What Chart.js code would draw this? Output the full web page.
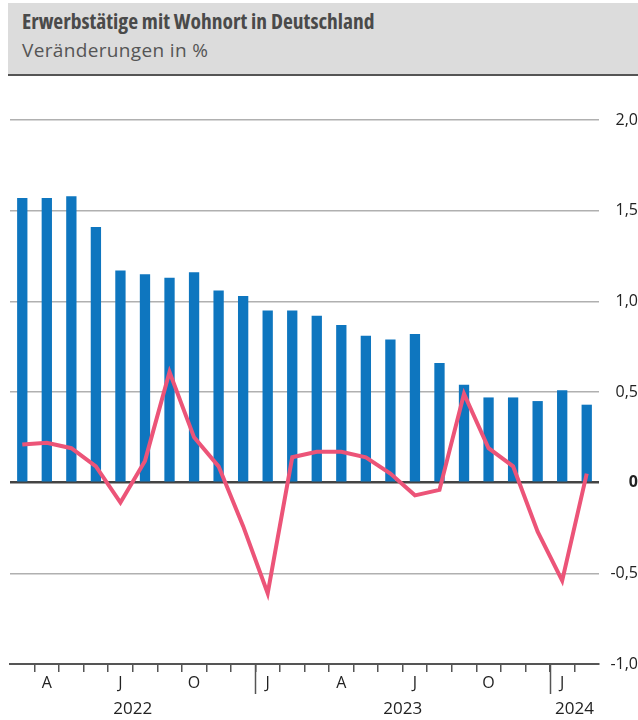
<!DOCTYPE html>
<html lang="de">
<head>
<meta charset="utf-8">
<title>Erwerbstätige mit Wohnort in Deutschland</title>
<script src="https://cdn.jsdelivr.net/npm/chart.js@4.4.1/dist/chart.umd.min.js"></script>
<style>
  body { margin: 0; background: #fff; }
  #page { position: relative; width: 638px; height: 720px; overflow: hidden; }
  #header {
    position: absolute; left: 8px; top: 3px; width: 630px; height: 71px;
    background: #dcdcdc; border-bottom: 2px solid #555;
  }
  #title {
    position: absolute; left: 14px; top: 7px; margin: 0;
    font: bold 21.5px "Open Sans", sans-serif; font-stretch: 75%;
    line-height: 1; color: #4a4a4a; white-space: nowrap;
  }
  #subtitle {
    position: absolute; left: 14px; top: 38px;
    font: 19px "Open Sans", sans-serif; letter-spacing: 0.35px;
    line-height: 1; color: #555; white-space: nowrap;
  }
  #chart { position: absolute; left: 0; top: 0; }
</style>
</head>
<body>
<div id="page">
  <canvas id="chart" width="638" height="720"></canvas>
  <div id="header">
    <h1 id="title">Erwerbstätige mit Wohnort in Deutschland</h1>
    <div id="subtitle">Veränderungen in %</div>
  </div>
</div>
<script>
// Months: March 2022 to February 2024
const categories = [
  "2022-03", "2022-04", "2022-05", "2022-06", "2022-07", "2022-08",
  "2022-09", "2022-10", "2022-11", "2022-12",
  "2023-01", "2023-02", "2023-03", "2023-04", "2023-05", "2023-06",
  "2023-07", "2023-08", "2023-09", "2023-10", "2023-11", "2023-12",
  "2024-01", "2024-02",
];

// Month letters shown under the axis (only some months are labelled)
const monthLetters = { "01": "J", "04": "A", "07": "J", "10": "O" };

// Bars: change against the previous year (%)
const barValues = [
  1.57, 1.57, 1.58, 1.41, 1.17, 1.15, 1.13, 1.16, 1.06, 1.03,
  0.95, 0.95, 0.92, 0.87, 0.81, 0.79, 0.82, 0.66, 0.54, 0.47,
  0.47, 0.45, 0.51, 0.43,
];

// Line: change against the previous month (%)
const lineValues = [
  0.21, 0.22, 0.19, 0.09, -0.11, 0.12, 0.61, 0.25, 0.09, -0.24,
  -0.61, 0.14, 0.17, 0.17, 0.14, 0.05, -0.07, -0.04, 0.49, 0.19,
  0.09, -0.27, -0.54, 0.05,
];

// Y axis ticks
const yTicks = [-1, -0.5, 0, 0.5, 1, 1.5, 2];

const years = [...new Set(categories.map((c) => c.slice(0, 4)))];

const tickFont = { family: "'Open Sans', sans-serif", size: 16 };

// year separators and year labels below the month letters
const yearAxisPlugin = {
  id: "yearAxis",
  afterDraw(chart) {
    const x = chart.scales.x;
    const ctx = chart.ctx;
    const bottom = chart.chartArea.bottom;
    ctx.save();
    ctx.strokeStyle = "#555";
    ctx.lineWidth = 1.5;
    ctx.fillStyle = "#222";
    ctx.font = "17px 'Open Sans', sans-serif";
    ctx.textAlign = "center";
    ctx.textBaseline = "alphabetic";
    years.forEach((year) => {
      const idx = categories
        .map((c, i) => (c.startsWith(year) ? i : -1))
        .filter((i) => i >= 0);
      const first = idx[0];
      const last = idx[idx.length - 1];
      if (first > 0) {
        const sep = (x.getPixelForValue(first - 1) + x.getPixelForValue(first)) / 2;
        ctx.beginPath();
        ctx.moveTo(Math.round(sep) + 0.5, bottom);
        ctx.lineTo(Math.round(sep) + 0.5, bottom + 30);
        ctx.stroke();
      }
      const mid = (x.getPixelForValue(first) + x.getPixelForValue(last)) / 2;
      ctx.fillText(year, mid, bottom + 50);
    });
    ctx.restore();
  },
};

const ctx = document.getElementById("chart").getContext("2d");
const chart = new Chart(ctx, {
  type: "bar",
  data: {
    labels: categories,
    datasets: [
      {
        type: "line",
        data: lineValues,
        borderColor: "#ec5478",
        borderWidth: 4,
        pointRadius: 0,
        tension: 0,
        order: 0,
      },
      {
        data: barValues,
        backgroundColor: "#0e76bf",
        categoryPercentage: 1,
        barPercentage: 0.42,
        order: 1,
      },
    ],
  },
  plugins: [yearAxisPlugin],
  options: {
    responsive: false,
    animation: false,
    layout: { padding: { top: 120, left: 10, right: 0, bottom: 0 } },
    plugins: {
      legend: { display: false },
      tooltip: { enabled: false },
    },
    scales: {
      x: {
        grid: {
          offset: true,
          drawOnChartArea: false,
          drawTicks: true,
          tickLength: 8,
          lineWidth: 1.5,
          color: (c) => (c.index > 0 ? "#555" : "transparent"),
        },
        border: { display: true, color: "#555", width: 2 },
        ticks: {
          autoSkip: false,
          maxRotation: 0,
          padding: 2,
          color: "#222",
          font: tickFont,
          callback: (value, i) => monthLetters[categories[i].slice(5)] || "",
        },
        afterFit: (scale) => { scale.height = 56; },
      },
      y: {
        position: "right",
        min: -1,
        max: 2,
        afterBuildTicks: (scale) => {
          scale.ticks = yTicks.map((v) => ({ value: v }));
        },
        grid: {
          drawTicks: false,
          color: (c) => {
            const v = c.tick && c.tick.value;
            if (v === -1) return "transparent";
            return v === 0 ? "#444" : "#b0b0b0";
          },
          lineWidth: (c) => (c.tick && c.tick.value === 0 ? 2.5 : 1.5),
        },
        border: { display: false },
        ticks: {
          padding: 8,
          crossAlign: "far",
          color: "#222",
          font: (c) => ({
            family: "'Open Sans', sans-serif",
            size: 16,
            weight: c.tick && c.tick.value === 0 ? "bold" : "normal",
          }),
          callback: (v) => (v === 0 ? "0" : v.toFixed(1).replace(".", ",")),
        },
        afterFit: (scale) => { scale.width = 39; },
      },
    },
  },
});
</script>
</body>
</html>
